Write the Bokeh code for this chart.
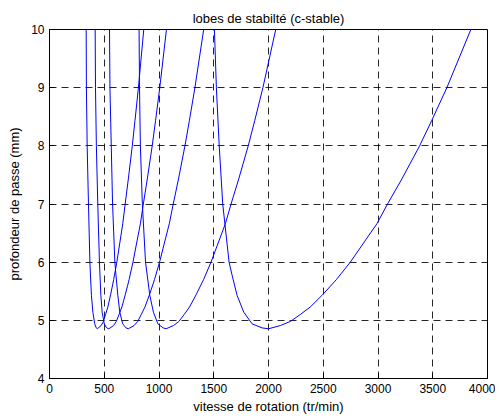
from bokeh.plotting import figure
from bokeh.models import Range1d, FixedTicker
from bokeh.embed import file_html
from bokeh.resources import INLINE

# Stability lobes: speed (tr/min) vs depth of cut (mm)
lobe1_x = [335, 337, 344, 356, 369, 374, 383, 396, 413, 427, 436,
           472, 492, 512, 533, 558, 586, 615, 669, 691, 720, 756, 781, 812, 861]
lobe1_y = [10, 9, 8, 7, 6, 5.78, 5.43, 5.14, 4.94, 4.87, 4.855,
           4.91, 4.98, 5.10, 5.23, 5.44, 5.70, 6.0, 6.66, 7.0, 7.43, 8.0, 8.44, 9.0, 10]

lobe2_x = [417, 420, 428, 441, 456, 461, 469, 481, 500, 522, 542,
           585, 610, 635, 661, 692, 727, 762, 830, 857, 893, 938, 969, 1007, 1068]
lobe2_y = [10, 9, 8, 7, 6, 5.78, 5.43, 5.14, 4.94, 4.87, 4.855,
           4.91, 4.98, 5.10, 5.23, 5.44, 5.70, 6.0, 6.66, 7.0, 7.43, 8.0, 8.44, 9.0, 10]

lobe3_x = [548, 552, 564, 576, 597, 607, 624, 642, 668, 699, 720,
           772, 805, 838, 872, 913, 959, 1005, 1094, 1130, 1178, 1237, 1278, 1328, 1408]
lobe3_y = [10, 9, 8, 7, 6, 5.78, 5.43, 5.14, 4.94, 4.87, 4.855,
           4.91, 4.98, 5.10, 5.23, 5.44, 5.70, 6.0, 6.66, 7.0, 7.43, 8.0, 8.44, 9.0, 10]

lobe4_x = [818, 822, 830, 848, 877, 892, 916, 949, 990, 1038, 1065,
           1132, 1181, 1230, 1279, 1339, 1407, 1475, 1606, 1658, 1728, 1815, 1875, 1949, 2066]
lobe4_y = [10, 9, 8, 7, 6, 5.78, 5.43, 5.14, 4.94, 4.87, 4.855,
           4.91, 4.98, 5.10, 5.23, 5.44, 5.70, 6.0, 6.66, 7.0, 7.43, 8.0, 8.44, 9.0, 10]

lobe5_x = [1506, 1524, 1550, 1582, 1640, 1667, 1713, 1774, 1850, 1941, 2000,
           2108, 2199, 2290, 2382, 2494, 2620, 2747, 2990, 3087, 3218, 3380, 3492, 3629, 3848]
lobe5_y = [10, 9, 8, 7, 6, 5.78, 5.43, 5.14, 4.94, 4.87, 4.855,
           4.91, 4.98, 5.10, 5.23, 5.44, 5.70, 6.0, 6.66, 7.0, 7.43, 8.0, 8.44, 9.0, 10]

x_ticks = [0, 500, 1000, 1500, 2000, 2500, 3000, 3500, 4000]
y_ticks = [4, 5, 6, 7, 8, 9, 10]

FONT = "Liberation Sans"

p = figure(frame_width=438, frame_height=349,
           x_range=Range1d(0, 4000), y_range=Range1d(4, 10),
           output_backend="svg", toolbar_location=None,
           min_border_left=49, min_border_right=8,
           min_border_top=29, min_border_bottom=40,
           title="lobes de stabilté (c-stable)")
p.background_fill_color = "white"
p.border_fill_color = "white"
p.outline_line_color = "black"
p.outline_line_width = 1

p.title.align = "center"
p.title.text_font = FONT
p.title.text_font_size = "13px"
p.title.text_font_style = "normal"
p.title.text_color = "black"
p.title.standoff = 7
p.title.offset = 0

for ax in (p.xaxis[0], p.yaxis[0]):
    ax.major_tick_in = 5
    ax.major_tick_out = 0
    ax.minor_tick_in = 0
    ax.minor_tick_out = 0
    ax.axis_line_color = "black"
    ax.major_tick_line_color = "black"
    ax.major_label_text_font = FONT
    ax.major_label_text_font_size = "12px"
    ax.major_label_text_color = "black"
    ax.axis_label_text_font = FONT
    ax.axis_label_text_font_size = "13px"
    ax.axis_label_text_font_style = "normal"
    ax.axis_label_text_color = "black"

p.xaxis[0].ticker = FixedTicker(ticks=x_ticks)
p.yaxis[0].ticker = FixedTicker(ticks=y_ticks)
p.xaxis[0].axis_label = "vitesse de rotation (tr/min)"
p.yaxis[0].axis_label = "profondeur de passe (mm)"
p.xaxis[0].major_label_standoff = 5
p.yaxis[0].major_label_standoff = 5
p.xaxis[0].axis_label_standoff = 3
p.yaxis[0].axis_label_standoff = 6

for g in (p.xgrid[0], p.ygrid[0]):
    g.grid_line_color = "black"
    g.grid_line_alpha = 0.85
    g.grid_line_dash = "7 5"
    g.grid_line_width = 1
p.xgrid[0].ticker = FixedTicker(ticks=x_ticks)
p.ygrid[0].ticker = FixedTicker(ticks=y_ticks)

for xs, ys in ((lobe1_x, lobe1_y), (lobe2_x, lobe2_y), (lobe3_x, lobe3_y),
               (lobe4_x, lobe4_y), (lobe5_x, lobe5_y)):
    p.line(xs, ys, line_color="#0000ff", line_width=1)

open("out.html", "w").write(file_html(p, INLINE))
